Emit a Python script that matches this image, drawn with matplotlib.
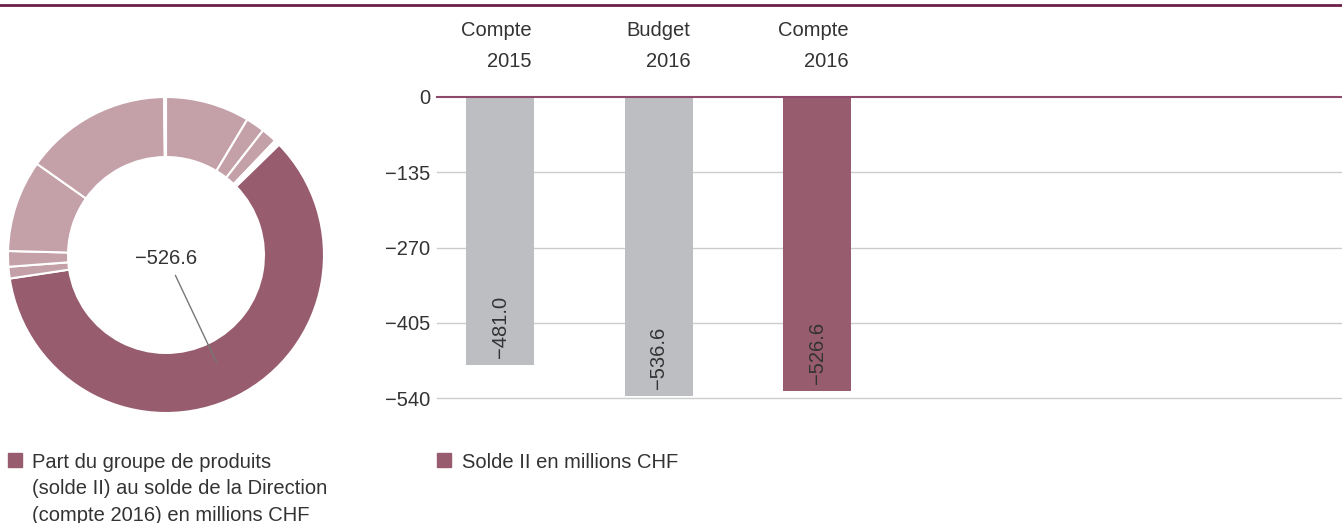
import matplotlib
matplotlib.use('Agg')
import matplotlib.pyplot as plt
from matplotlib.patches import Rectangle
from matplotlib.lines import Line2D

# donut: share of the product group in the Direction balance (compte 2016), clockwise from top
donut_values = [75.6, 17.0, 14.0, 1.7, 1.7, 1.7, 526.6, 10.5, 14.0, 82.5, 132.0, 1.7]
donut_highlight = 6
donut_label = '\u2212526.6'

# bars: solde II en millions CHF
categories = ['Compte\n2015', 'Budget\n2016', 'Compte\n2016']
values = [-481.0, -536.6, -526.6]
value_labels = ['\u2212481.0', '\u2212536.6', '\u2212526.6']
yticks = [0, -135, -270, -405, -540]
ytick_labels = ['0', '\u2212135', '\u2212270', '\u2212405', '\u2212540']

DARK = '#975C6E'
LIGHT = '#C4A0A9'
GREY = '#BDBEC2'
TEXT = '#333333'
FS = 14.5
plt.rcParams['font.family'] = ['Liberation Sans', 'DejaVu Sans']

W, H = 1342, 523
fig = plt.figure(figsize=(W / 100, H / 100), dpi=100)

# top rule
fig.add_artist(Line2D([0, 1], [1 - 5 / H, 1 - 5 / H], color='#6E1F47', lw=2))

# donut
ax1 = fig.add_axes([8 / W, 110 / H, 316 / W, 316 / H])
cols = [DARK if i == donut_highlight else LIGHT for i in range(len(donut_values))]
ax1.pie(donut_values, colors=cols, startangle=90, counterclock=False, radius=1,
        wedgeprops=dict(width=0.38, edgecolor='white', linewidth=1.5))
ax1.set_xlim(-1, 1)
ax1.set_ylim(-1, 1)
ax1.set_aspect('equal')
ax1.axis('off')
ax1.text(0, -0.02, donut_label, ha='center', va='center', fontsize=FS, color=TEXT)
ax1.plot([0.06, 0.32], [-0.13, -0.68], color='#777777', lw=1)

# bars
ax2 = fig.add_axes([437 / W, 125 / H, 905 / W, 301 / H])
x = list(range(len(values)))
bar_cols = [GREY, GREY, DARK]
ax2.bar(x, values, width=0.43, color=bar_cols, zorder=3)
ax2.set_xlim(-0.4, 5.31)
ax2.set_ylim(-540, 0)
for y in yticks[1:]:
    ax2.axhline(y, color='#CCCCCC', lw=1, zorder=1, clip_on=False)
ax2.axhline(0, color='#8E4A6A', lw=1.5, zorder=4, clip_on=False)
ax2.set_yticks(yticks)
ax2.set_yticklabels(ytick_labels, fontsize=FS, color=TEXT)
ax2.tick_params(axis='y', length=0, pad=5)
ax2.set_xticks([])
for s in ax2.spines.values():
    s.set_visible(False)

for xi, v, lab in zip(x, values, value_labels):
    ax2.annotate(lab, (xi, v), xytext=(0, 5), textcoords='offset points',
                 rotation=90, ha='center', va='bottom', fontsize=FS, color=TEXT)
    ax2.annotate(categories[xi], (xi + 0.215, 0), xytext=(-2, 19), textcoords='offset points',
                 ha='right', va='bottom', fontsize=FS, color=TEXT, multialignment='right',
                 linespacing=1.8, annotation_clip=False)

# legends
fig.add_artist(Rectangle((8 / W, 1 - 467 / H), 14 / W, 14 / H, color=DARK, transform=fig.transFigure))
fig.text(32 / W, 1 - 453 / H,
         'Part du groupe de produits\n(solde II) au solde de la Direction\n(compte 2016) en millions CHF',
         ha='left', va='top', fontsize=FS, color=TEXT, linespacing=1.5)
fig.add_artist(Rectangle((437 / W, 1 - 467 / H), 14 / W, 14 / H, color=DARK, transform=fig.transFigure))
fig.text(462 / W, 1 - 453 / H, 'Solde II en millions CHF',
         ha='left', va='top', fontsize=FS, color=TEXT)

fig.savefig('out.png', dpi=100)
